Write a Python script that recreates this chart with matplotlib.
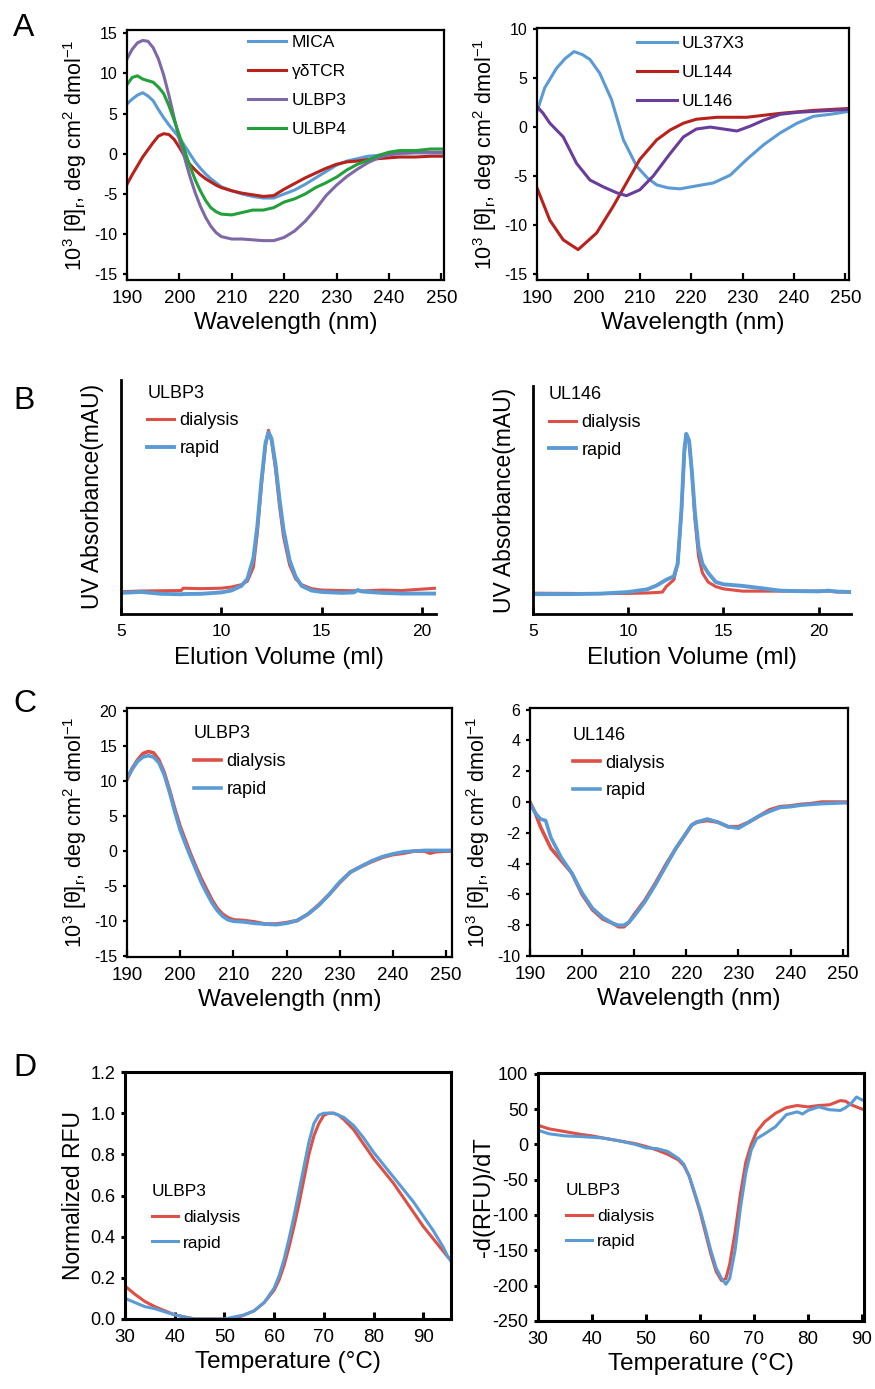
import numpy as np
import matplotlib
matplotlib.use("Agg")
import matplotlib.pyplot as plt

plt.rcParams['font.family'] = ['Liberation Sans', 'DejaVu Sans']
plt.rcParams['mathtext.default'] = 'regular'
plt.rcParams['axes.unicode_minus'] = False

BLUE = '#5b9bd5'
RED_A = '#b8221b'
RED = '#de4f45'
PURPLE_A = '#7f68a6'
PURPLE_B = '#6a3d9a'
GREEN = '#23a03a'

# ---- panel A left: CD spectra of ligands ----
wl_a1 = [190, 191, 192, 193, 194, 195, 196, 197, 198, 199, 200, 201, 202, 203, 204, 205, 206, 207, 208,
         210, 212, 214, 216, 218, 220, 222, 224, 226, 228, 230, 232, 234, 236, 238, 240, 242, 245, 248, 250, 250.5]
mica = [6.2, 6.8, 7.3, 7.6, 7.2, 6.6, 5.5, 4.5, 3.6, 2.8, 2.0, 1.0, 0.0, -1.0, -1.8, -2.5, -3.1, -3.6, -4.1,
        -4.6, -5.0, -5.3, -5.5, -5.5, -5.0, -4.5, -3.8, -3.0, -2.2, -1.4, -0.9, -0.6, -0.3, -0.2, -0.1, 0.0, 0.1, 0.1, 0.1, 0.1]
gdtcr = [-3.8, -2.6, -1.5, -0.4, 0.5, 1.4, 2.2, 2.5, 2.4, 1.8, 0.8, -0.3, -1.3, -2.0, -2.6, -3.1, -3.5, -3.9, -4.2,
         -4.6, -4.9, -5.1, -5.3, -5.2, -4.4, -3.7, -3.0, -2.4, -1.8, -1.3, -1.0, -0.9, -0.7, -0.6, -0.5, -0.4, -0.4, -0.3, -0.3, -0.3]
ulbp3 = [11.8, 13.0, 13.8, 14.1, 14.0, 13.2, 11.8, 9.8, 7.3, 4.5, 1.8, -0.5, -2.8, -4.8, -6.5, -7.9, -9.0, -9.8, -10.3,
         -10.6, -10.6, -10.7, -10.8, -10.8, -10.4, -9.6, -8.4, -6.9, -5.2, -3.9, -2.8, -1.9, -1.1, -0.5, -0.1, 0.1, 0.2, 0.2, 0.2, 0.2]
ulbp4 = [8.6, 9.5, 9.7, 9.3, 9.1, 8.9, 8.3, 7.5, 6.0, 4.2, 2.3, 0.4, -1.5, -3.2, -4.6, -5.8, -6.7, -7.2, -7.5,
         -7.6, -7.3, -7.0, -7.0, -6.7, -6.0, -5.6, -5.0, -4.2, -3.6, -2.9, -2.0, -1.3, -0.8, -0.2, 0.2, 0.4, 0.4, 0.6, 0.6, 0.6]

# ---- panel A right: CMV proteins ----
wl_ul37 = [190, 191.5, 193.8, 195.5, 197.2, 198.8, 200.3, 202.2, 204.5, 206.8, 209.4, 211.5, 213.3, 215.5, 217.8,
           221, 224.3, 227.6, 230.8, 234.1, 237.3, 240.6, 243.8, 247, 250.7]
ul37x3 = [1.6, 4.0, 6.0, 7.0, 7.7, 7.4, 6.9, 5.5, 2.8, -1.3, -4.0, -5.2, -5.9, -6.2, -6.3,
          -6.0, -5.7, -4.9, -3.3, -1.8, -0.6, 0.4, 1.1, 1.3, 1.6]
wl_ul144 = [190, 192.5, 195.1, 198, 201.6, 204.8, 207.4, 210, 213.3, 215.9, 218.5, 221, 225, 230.8, 237.3, 243.8, 250.7]
ul144 = [-6.2, -9.5, -11.5, -12.5, -10.8, -8.1, -5.7, -3.3, -1.3, -0.3, 0.4, 0.8, 1.0, 1.0, 1.4, 1.7, 1.9]
wl_ul146 = [190, 191.2, 192.5, 195.1, 197.7, 200.3, 202.9, 205.5, 207.4, 210, 212.6, 215.9, 218.5, 221, 223.7,
            226.3, 228.9, 231.5, 234.1, 237.3, 240.6, 243.8, 250.7]
ul146 = [2.1, 1.4, 0.4, -1.0, -3.7, -5.4, -6.1, -6.7, -7.0, -6.4, -5.0, -2.7, -1.0, -0.2, 0.0,
         -0.2, -0.4, 0.1, 0.7, 1.3, 1.5, 1.6, 1.8]

# ---- panel B: size exclusion ----
vol_b1 = [5, 6, 7, 8, 8.1, 9, 10, 10.5, 11, 11.3, 11.6, 11.8, 12.0, 12.2, 12.35, 12.5, 12.7, 12.9, 13.1,
          13.4, 13.7, 14.0, 14.5, 15, 16, 16.6, 16.8, 17, 18, 19, 20, 20.7]
ulbp3_sec_dia = [9.5, 9.8, 9.9, 10.0, 11.0, 10.8, 11.0, 11.5, 12.5, 14, 20, 35, 55, 72, 78.5, 74, 62, 46, 33,
                 21, 15, 12.5, 10.8, 10.2, 10.0, 9.9, 10.0, 9.8, 10.2, 10.0, 10.6, 11.0]
ulbp3_sec_rap = [9.0, 9.4, 8.6, 8.4, 8.5, 8.6, 9.2, 10.0, 12.0, 15, 24, 38, 57, 73, 77.5, 75, 64, 49, 36,
                 23, 16, 12, 10, 9.4, 9.0, 9.2, 10.2, 9.6, 9.0, 8.7, 8.7, 8.7]
vol_b2 = [5, 7, 8.5, 10, 11, 11.5, 11.8, 12.0, 12.4, 12.6, 12.8, 12.95, 13.05, 13.2, 13.35, 13.5, 13.7, 13.9,
          14.2, 14.6, 15, 16, 17, 18, 19, 20, 20.5, 21, 21.7]
ul146_sec_dia = [9.1, 9.0, 8.9, 9.0, 9.2, 9.4, 9.6, 12, 15, 22, 45, 70, 79, 76, 62, 42, 25, 18,
                 14, 12, 11, 10, 10, 10, 10, 10, 10, 9.6, 9.6]
ul146_sec_rap = [8.7, 8.7, 8.9, 9.6, 10.8, 12.5, 14, 15, 16.5, 22, 46, 72, 79, 76, 62, 45, 29, 22,
                 18, 14, 13, 12.3, 11.3, 10.2, 10.0, 9.9, 10.2, 9.8, 9.6]

# ---- panel C: CD after refolding ----
wl_c1 = [190, 191, 192, 193, 194, 195, 196, 197, 198, 199, 200, 201, 202, 203, 204, 205, 206, 207, 208, 209,
         210, 212, 214, 216, 218, 220, 222, 224, 226, 228, 230, 232, 234, 236, 238, 240, 242, 244, 246, 247, 248, 250, 251]
ulbp3_cd_dia = [10.2, 11.8, 13.0, 13.9, 14.2, 14.0, 13.0, 11.2, 8.7, 6.0, 3.5, 1.5, -0.5, -2.3, -4.0, -5.5, -7.0, -8.2, -9.0, -9.5,
                -9.8, -9.9, -10.1, -10.4, -10.4, -10.2, -9.9, -9.0, -7.7, -6.2, -4.5, -3.0, -2.2, -1.5, -0.9, -0.5, -0.3, 0.0, 0.0, -0.3, -0.1, 0.0, 0.0]
ulbp3_cd_rap = [10.4, 11.7, 12.8, 13.4, 13.6, 13.4, 12.6, 10.9, 8.4, 5.6, 3.0, 1.0, -0.9, -2.7, -4.5, -6.0, -7.4, -8.5, -9.3, -9.8,
                -10.0, -10.1, -10.3, -10.4, -10.5, -10.3, -9.9, -9.0, -7.8, -6.2, -4.4, -3.0, -2.2, -1.4, -0.8, -0.4, -0.1, 0.0, 0.1, 0.1, 0.1, 0.1, 0.1]
wl_c2 = [190, 191, 192, 193, 194, 196, 198, 200, 202, 204, 206, 207, 208, 209, 210, 212, 214, 216, 218, 220,
         221, 222, 224, 226, 228, 230, 232, 234, 236, 238, 240, 242, 244, 246, 250, 251]
ul146_cd_dia = [0.0, -0.7, -1.6, -2.3, -3.0, -3.8, -4.6, -6.0, -7.0, -7.6, -7.9, -8.1, -8.1, -7.8, -7.3, -6.4, -5.3, -4.1, -3.0, -2.0,
                -1.5, -1.3, -1.2, -1.3, -1.6, -1.6, -1.3, -0.9, -0.5, -0.3, -0.25, -0.15, -0.1, 0.0, 0.0, 0.0]
ul146_cd_rap = [-0.1, -0.7, -1.1, -1.2, -2.3, -3.6, -4.6, -5.9, -6.9, -7.5, -7.9, -8.0, -8.0, -7.8, -7.4, -6.5, -5.4, -4.2, -3.0, -2.0,
                -1.5, -1.3, -1.1, -1.3, -1.6, -1.7, -1.3, -0.9, -0.6, -0.35, -0.3, -0.2, -0.15, -0.1, -0.05, -0.05]

# ---- panel D: thermal melt ----
temp_d1 = [30, 32, 34, 36, 38, 40, 42, 44, 50, 52, 54, 56, 58, 60, 61, 62, 63, 64, 65, 66, 67, 68, 69, 70,
           71, 72, 73, 74, 76, 78, 80, 82, 84, 86, 88, 90, 92, 94, 95, 95.6]
rfu_dia = [0.16, 0.12, 0.085, 0.06, 0.04, 0.02, 0.01, 0.0, 0.0, 0.0, 0.02, 0.04, 0.08, 0.14, 0.19, 0.26, 0.35, 0.45, 0.56, 0.68, 0.80, 0.89, 0.95, 0.99,
           1.0, 1.0, 0.99, 0.97, 0.92, 0.85, 0.78, 0.72, 0.66, 0.59, 0.52, 0.45, 0.39, 0.33, 0.30, 0.29]
rfu_rap = [0.10, 0.08, 0.06, 0.05, 0.035, 0.02, 0.01, 0.0, 0.0, 0.01, 0.02, 0.04, 0.08, 0.15, 0.21, 0.29, 0.39, 0.50, 0.62, 0.74, 0.86, 0.95, 0.99, 1.0,
           1.0, 1.0, 0.99, 0.98, 0.94, 0.88, 0.81, 0.75, 0.69, 0.63, 0.57, 0.50, 0.43, 0.35, 0.30, 0.28]
temp_d2 = [30, 32, 35, 38, 40, 42, 45, 48, 50, 52, 54, 56, 57, 58, 59, 60, 61, 62, 63, 64, 64.8, 65.5, 66.5,
           67.5, 68.5, 69.5, 70.5, 72, 74, 76, 78, 79, 80, 82, 84, 86, 87, 88, 89, 90]
drfu_dia = [27, 22, 18, 14, 12, 9, 5, 1, -3, -8, -14, -22, -30, -45, -70, -95, -125, -155, -180, -193, -190, -170, -125,
            -70, -25, 0, 18, 32, 44, 52, 55, 54, 53, 55, 56, 62, 61, 56, 53, 50]
drfu_rap = [20, 15, 12, 11, 10, 9, 5, 0, -5, -6, -10, -20, -28, -45, -68, -92, -120, -150, -175, -190, -198, -190, -150,
            -90, -40, -8, 8, 15, 25, 42, 46, 43, 48, 53, 49, 48, 52, 58, 67, 63]

CD_LABEL = '10$^3$ [θ]$_r$, deg cm$^2$ dmol$^{-1}$'

fig = plt.figure(figsize=(8.75, 13.89), dpi=100)


def style(ax, xtick_size=13.5, ytick_size=11.5, lw=1.6, box=True):
    for s in ax.spines.values():
        s.set_linewidth(lw)
    if not box:
        ax.spines['top'].set_visible(False)
        ax.spines['right'].set_visible(False)
    ax.tick_params(axis='x', direction='in', length=5, width=lw, labelsize=xtick_size, pad=7)
    ax.tick_params(axis='y', direction='out', length=3, width=lw, labelsize=ytick_size, pad=4)


def add_legend(ax, x, y, title=None, fs=13, hl=1.5, spacing=0.6):
    leg = ax.legend(loc='upper left', bbox_to_anchor=(x, y), frameon=False, fontsize=fs,
                    title=title, title_fontsize=fs, alignment='left', handlelength=hl,
                    handletextpad=0.3, labelspacing=spacing, borderpad=0, borderaxespad=0)
    return leg


# A left
ax = fig.add_axes([0.1451, 0.7984, 0.3623, 0.18])
ax.plot(wl_a1, mica, color=BLUE, lw=2.2, label='MICA')
ax.plot(wl_a1, gdtcr, color=RED_A, lw=2.2, label='γδTCR')
ax.plot(wl_a1, ulbp3, color=PURPLE_A, lw=2.2, label='ULBP3')
ax.plot(wl_a1, ulbp4, color=GREEN, lw=2.2, label='ULBP4')
ax.set_xlim(190, 250.5)
ax.set_ylim(-15.7, 15.4)
ax.set_xticks(range(190, 251, 10))
ax.set_yticks(range(-15, 16, 5))
ax.set_xlabel('Wavelength (nm)', fontsize=17.5, labelpad=4)
ax.set_ylabel(CD_LABEL, fontsize=15.5, labelpad=4)
style(ax)
add_legend(ax, 0.382, 0.98, fs=12.5, hl=2.2, spacing=0.8)

# A right
ax = fig.add_axes([0.6137, 0.7984, 0.3566, 0.1814])
ax.plot(wl_ul37, ul37x3, color=BLUE, lw=2.2, label='UL37X3')
ax.plot(wl_ul144, ul144, color=RED_A, lw=2.2, label='UL144')
ax.plot(wl_ul146, ul146, color=PURPLE_B, lw=2.2, label='UL146')
ax.set_xlim(190, 250.7)
ax.set_ylim(-15.6, 10.1)
ax.set_xticks(range(190, 251, 10))
ax.set_yticks(range(-15, 11, 5))
ax.set_xlabel('Wavelength (nm)', fontsize=17.5, labelpad=4)
ax.set_ylabel(CD_LABEL, fontsize=15.5, labelpad=4)
style(ax)
add_legend(ax, 0.32, 0.97, fs=12.5, hl=2.3, spacing=0.8)

# B left
ax = fig.add_axes([0.1383, 0.5580, 0.36, 0.1685])
ax.plot(vol_b1, ulbp3_sec_dia, color=RED, lw=2.2, label='dialysis')
ax.plot(vol_b1, ulbp3_sec_rap, color=BLUE, lw=2.8, label='rapid')
ax.set_xlim(5, 20.7)
ax.set_ylim(0, 100)
ax.set_xticks([5, 10, 15, 20])
ax.set_yticks([])
ax.set_xlabel('Elution Volume (ml)', fontsize=17.5, labelpad=6)
ax.set_ylabel('UV Absorbance(mAU)', fontsize=16.5, labelpad=12)
style(ax, xtick_size=12.5, lw=2, box=False)
add_legend(ax, 0.083, 0.98, title='ULBP3')

# B right
ax = fig.add_axes([0.6091, 0.5580, 0.3634, 0.1641])
ax.plot(vol_b2, ul146_sec_dia, color=RED, lw=2.2, label='dialysis')
ax.plot(vol_b2, ul146_sec_rap, color=BLUE, lw=2.8, label='rapid')
ax.set_xlim(5, 21.7)
ax.set_ylim(0, 100)
ax.set_xticks([5, 10, 15, 20])
ax.set_yticks([])
ax.set_xlabel('Elution Volume (ml)', fontsize=17.5, labelpad=6)
ax.set_ylabel('UV Absorbance(mAU)', fontsize=16.5, labelpad=12)
style(ax, xtick_size=12.5, lw=2, box=False)
add_legend(ax, 0.05, 1.0, title='UL146')

# C left
ax = fig.add_axes([0.1451, 0.3110, 0.3714, 0.1793])
ax.plot(wl_c1, ulbp3_cd_dia, color=RED, lw=2.6, label='dialysis')
ax.plot(wl_c1, ulbp3_cd_rap, color=BLUE, lw=2.6, label='rapid')
ax.set_xlim(190, 251.1)
ax.set_ylim(-15.1, 20.4)
ax.set_xticks(range(190, 251, 10))
ax.set_yticks(range(-15, 21, 5))
ax.set_xlabel('Wavelength (nm)', fontsize=17.5, labelpad=4)
ax.set_ylabel(CD_LABEL, fontsize=15.5, labelpad=4)
style(ax)
add_legend(ax, 0.206, 0.93, title='ULBP3')

# C right
ax = fig.add_axes([0.6057, 0.3117, 0.3634, 0.1785])
ax.plot(wl_c2, ul146_cd_dia, color=RED, lw=2.6, label='dialysis')
ax.plot(wl_c2, ul146_cd_rap, color=BLUE, lw=2.6, label='rapid')
ax.set_xlim(190, 251)
ax.set_ylim(-10, 6.1)
ax.set_xticks(range(190, 251, 10))
ax.set_yticks(range(-10, 7, 2))
ax.set_xlabel('Wavelength (nm)', fontsize=17.5, labelpad=4)
ax.set_ylabel(CD_LABEL, fontsize=15.5, labelpad=4)
style(ax)
add_legend(ax, 0.135, 0.925, title='UL146')

# D left
ax = fig.add_axes([0.1429, 0.0504, 0.3726, 0.1778])
ax.plot(temp_d1, rfu_dia, color=RED, lw=2.2, label='dialysis')
ax.plot(temp_d1, rfu_rap, color=BLUE, lw=2.2, label='rapid')
ax.set_xlim(30, 95.6)
ax.set_ylim(0, 1.2)
ax.set_xticks(range(30, 91, 10))
ax.set_yticks(np.arange(0, 1.21, 0.2))
ax.yaxis.set_major_formatter(matplotlib.ticker.FormatStrFormatter('%.1f'))
ax.set_xlabel('Temperature (°C)', fontsize=17.5, labelpad=4)
ax.set_ylabel('Normalized RFU', fontsize=16.5, labelpad=4)
style(ax, ytick_size=13, lw=2.2)
add_legend(ax, 0.083, 0.545, title='ULBP3', fs=12.5)

# D right
ax = fig.add_axes([0.6149, 0.0490, 0.3726, 0.1785])
ax.plot(temp_d2, drfu_dia, color=RED, lw=2.2, label='dialysis')
ax.plot(temp_d2, drfu_rap, color=BLUE, lw=2.2, label='rapid')
ax.set_xlim(30, 90.4)
ax.set_ylim(-250, 101)
ax.set_xticks(range(30, 91, 10))
ax.set_yticks(range(-250, 101, 50))
ax.set_xlabel('Temperature (°C)', fontsize=17.5, labelpad=4)
ax.set_ylabel('-d(RFU)/dT', fontsize=17, labelpad=-2)
style(ax, ytick_size=13, lw=2.2)
add_legend(ax, 0.086, 0.555, title='ULBP3', fs=12.5)

# panel letters
for letter, yy in [('A', 0.991), ('B', 0.722), ('C', 0.504), ('D', 0.242)]:
    fig.text(0.015, yy, letter, fontsize=23, va='top', ha='left')

fig.savefig('out.png', dpi=100)
